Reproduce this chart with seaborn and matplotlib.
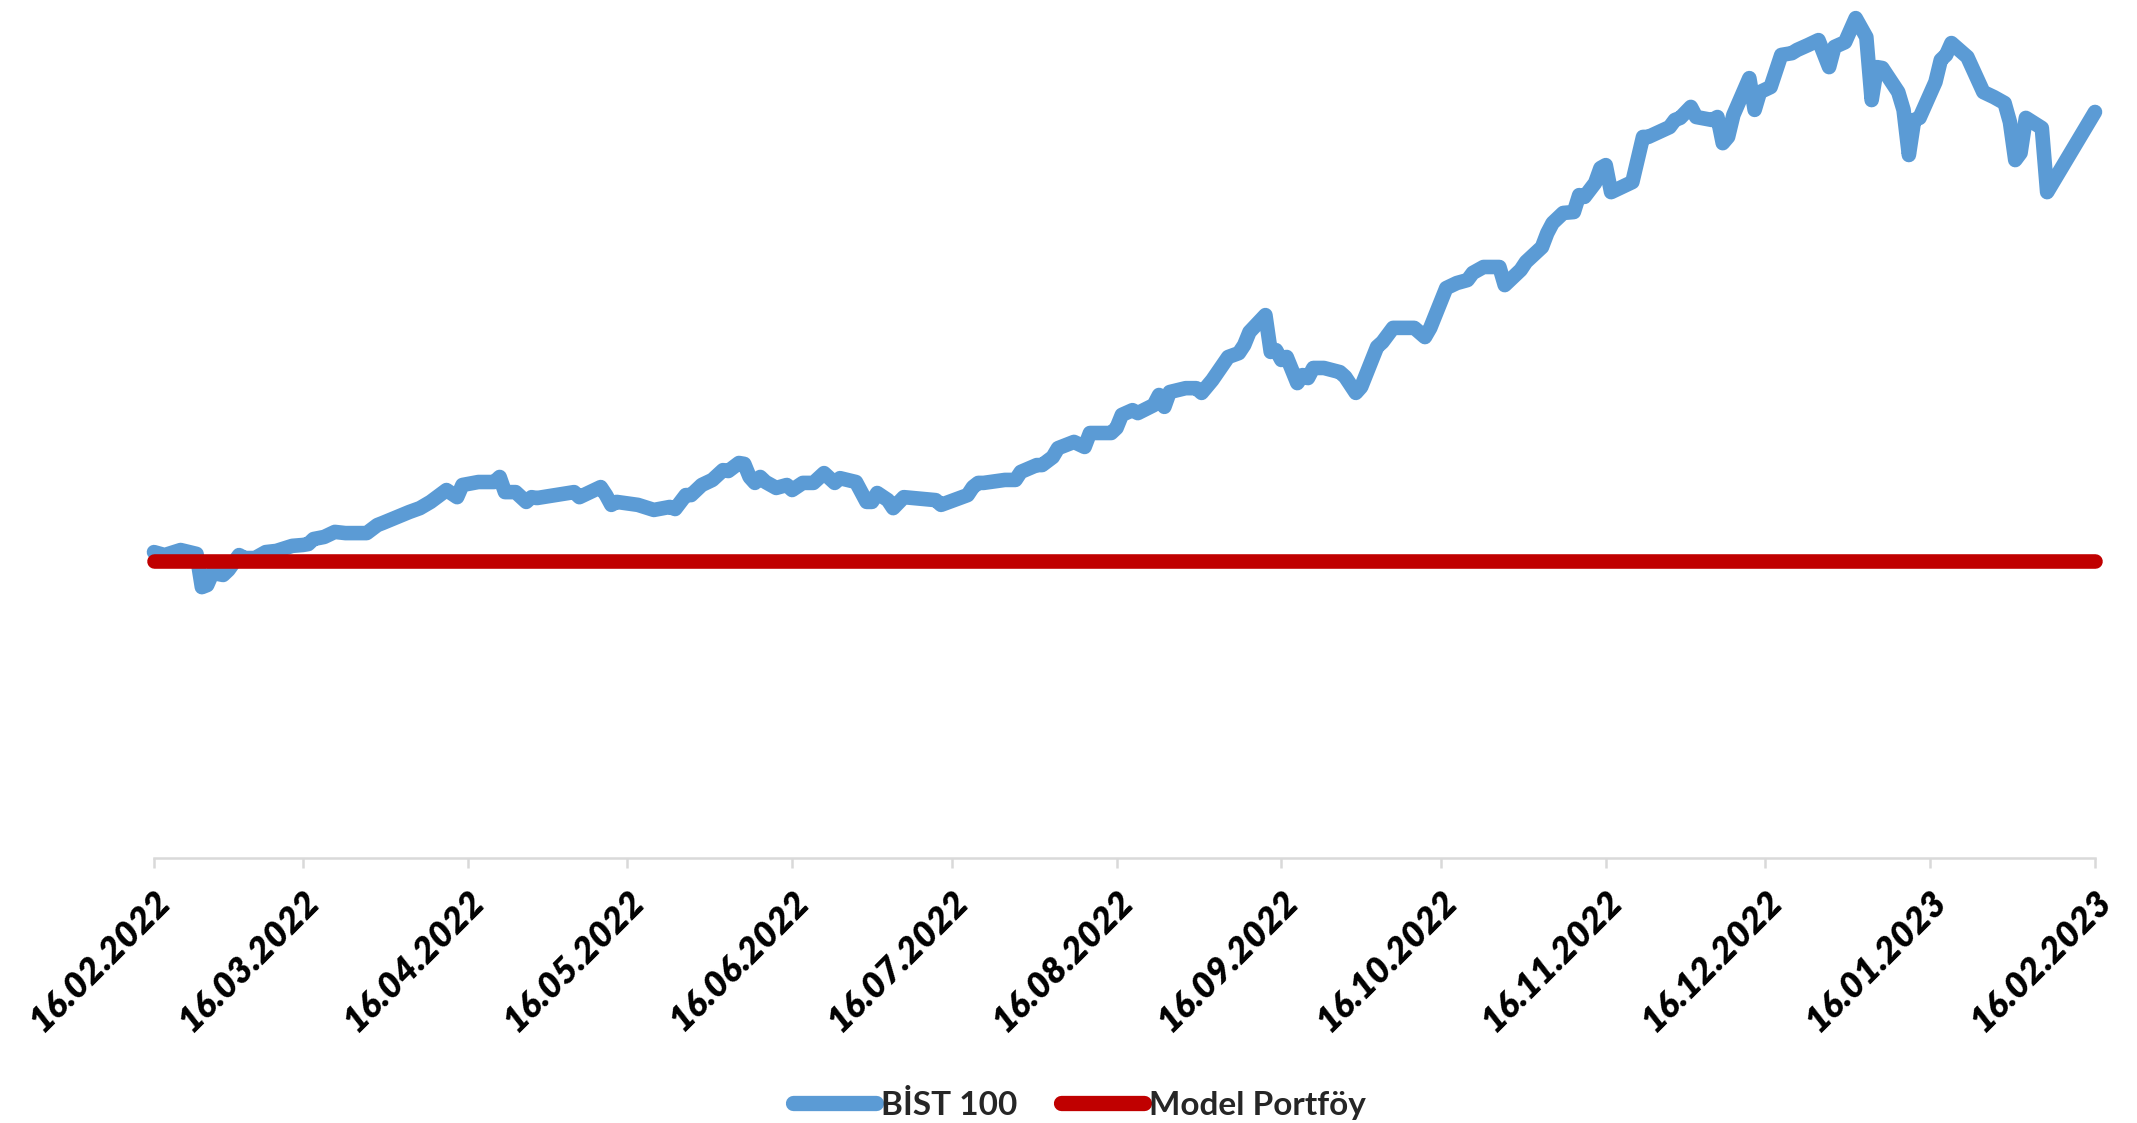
import matplotlib
matplotlib.use("Agg")
import matplotlib.pyplot as plt
import seaborn as sns
import pandas as pd

# ---- data ----
start_date = "2022-02-16"
# days since 16.02.2022
bist_days = [0, 2, 5, 8, 9, 10, 11, 13, 14, 16, 17, 19, 21, 23, 26, 28, 29, 30, 32, 34,
             36, 40, 42, 43, 48, 50, 52, 55, 57, 58, 61, 64, 65, 66, 68, 70, 71, 72, 79, 80,
             82, 84, 85, 86, 87, 91, 94, 97, 98, 100, 101, 103, 105, 107, 108, 110, 111, 112, 113, 114,
             115, 117, 119, 120, 122, 124, 126, 128, 129, 132, 134, 135, 136, 138, 139, 141, 147, 148, 153, 154,
             155, 156, 160, 162, 163, 166, 167, 169, 170, 173, 175, 176, 180, 181, 182, 184, 185, 188, 189, 190,
             191, 194, 196, 197, 199, 202, 204, 205, 206, 209, 210, 211, 212, 213, 215, 216, 217, 218, 220, 223,
             224, 226, 227, 230, 231, 233, 237, 239, 240, 243, 245, 247, 248, 250, 253, 254, 257, 258, 261, 262,
             263, 265, 267, 268, 269, 271, 272, 273, 274, 276, 278, 280, 281, 285, 286, 287, 289, 290, 293, 294,
             295, 296, 297, 300, 301, 302, 304, 306, 308, 309, 311, 313, 315, 316, 318, 320, 322, 323, 324, 325,
             328, 329, 330, 331, 332, 335, 336, 337, 338, 341, 344, 346, 348, 349, 350, 351, 352, 355, 356, 365]
bist_values = [103.0, 102.0, 103.7, 102.4, 91.2, 91.9, 96.0, 95.3, 97.0, 102.0, 101.0, 101.0, 103.0, 103.4, 105.1, 105.4, 105.7, 107.4, 108.1, 109.8,
               109.4, 109.4, 112.1, 112.8, 116.5, 117.8, 119.9, 123.9, 121.5, 125.6, 126.6, 126.6, 128.3, 123.2, 123.2, 119.9, 121.5, 121.2, 123.2, 121.5,
               123.2, 124.9, 122.2, 118.9, 119.9, 118.9, 117.2, 118.2, 117.5, 122.2, 122.2, 125.6, 127.3, 130.6, 130.3, 133.0, 132.7, 128.3, 126.3, 128.3,
               126.6, 124.6, 125.6, 123.9, 126.3, 126.3, 129.6, 126.3, 127.9, 126.6, 119.9, 119.9, 122.9, 120.5, 117.8, 121.5, 120.5, 118.9, 122.2, 124.9,
               126.3, 126.3, 127.3, 127.3, 130.0, 132.3, 132.3, 135.0, 138.0, 140.1, 138.4, 143.1, 143.1, 144.8, 149.2, 150.8, 149.8, 152.5, 155.9, 151.9,
               156.9, 158.2, 158.2, 156.6, 160.9, 168.7, 170.0, 172.7, 177.1, 182.8, 170.4, 171.0, 167.7, 168.7, 159.9, 162.6, 161.6, 165.0, 165.0, 163.6,
               162.0, 156.6, 158.6, 172.1, 173.7, 178.5, 178.5, 175.4, 178.5, 191.9, 193.6, 194.6, 197.0, 199.0, 199.0, 192.9, 198.0, 200.7, 205.7, 210.4,
               213.8, 217.2, 217.5, 223.2, 222.6, 227.3, 232.3, 233.3, 224.2, 225.9, 227.6, 242.8, 242.8, 246.1, 248.5, 249.2, 252.9, 249.5, 248.5, 249.5,
               240.7, 242.8, 250.2, 262.6, 251.9, 257.9, 259.6, 270.4, 271.0, 272.1, 273.7, 275.4, 266.3, 273.1, 274.7, 282.8, 276.4, 255.2, 266.3, 266.0,
               257.9, 251.9, 236.7, 248.5, 249.2, 261.3, 268.7, 270.4, 274.4, 269.7, 257.9, 256.2, 254.2, 247.8, 235.0, 237.4, 249.2, 245.8, 224.2, 251.2]
model_days = [0, 365]
model_values = [100.0, 100.0]
tick_dates = ["2022-02-16", "2022-03-16", "2022-04-16", "2022-05-16", "2022-06-16", "2022-07-16",
              "2022-08-16", "2022-09-16", "2022-10-16", "2022-11-16", "2022-12-16", "2023-01-16", "2023-02-16"]
series_names = ["BİST 100", "Model Portföy"]

# ---- build frames ----
t0 = pd.Timestamp(start_date)
bist = pd.DataFrame({"Tarih": t0 + pd.to_timedelta(bist_days, unit="D"),
                     "Değer": bist_values, "Seri": series_names[0]})
model = pd.DataFrame({"Tarih": t0 + pd.to_timedelta(model_days, unit="D"),
                      "Değer": model_values, "Seri": series_names[1]})

sns.set_theme(style="white")
plt.rcParams["font.family"] = ["Lato", "DejaVu Sans"]

fig = plt.figure(figsize=(21.37, 11.23), dpi=100)
ax = fig.add_axes([154 / 2137, (1123 - 858) / 1123, (2095 - 154) / 2137, 858 / 1123])

sns.lineplot(data=bist, x="Tarih", y="Değer", ax=ax, color="#5B9BD5", linewidth=10.5,
             solid_capstyle="round", solid_joinstyle="round", label=series_names[0], clip_on=False, zorder=2)
sns.lineplot(data=model, x="Tarih", y="Değer", ax=ax, color="#C00000", linewidth=10.5,
             solid_capstyle="round", label=series_names[1], clip_on=False, zorder=3)

ax.set_xlim(t0, t0 + pd.Timedelta(days=365))
ax.set_ylim(0, 288.9)

ticks = pd.to_datetime(tick_dates)
ax.set_xticks(ticks)
ax.set_xticklabels([d.strftime("%d.%m.%Y") for d in ticks], rotation=45, ha="right",
                   rotation_mode="anchor", fontsize=26, fontweight="heavy", fontstyle="italic",
                   color="black")
ax.tick_params(axis="x", direction="out", length=7, width=1.8, color="#D9D9D9", pad=12,
               bottom=True)
ax.set_yticks([])
ax.set_xlabel("")
ax.set_ylabel("")
for s in ["left", "top", "right"]:
    ax.spines[s].set_visible(False)
ax.spines["bottom"].set_color("#D9D9D9")
ax.spines["bottom"].set_linewidth(1.8)

ax.legend_.remove()
handles, labels = ax.get_legend_handles_labels()
leg = fig.legend(handles, labels, loc="center", bbox_to_anchor=(0.505, 0.016), ncol=2,
                 frameon=False, prop={"size": 24, "weight": "bold"}, handlelength=2.5,
                 handletextpad=0.15, columnspacing=1.3)
for line in leg.get_lines():
    line.set_linewidth(11)
    line.set_solid_capstyle("round")

fig.savefig("out.png", dpi=100, facecolor="white")
